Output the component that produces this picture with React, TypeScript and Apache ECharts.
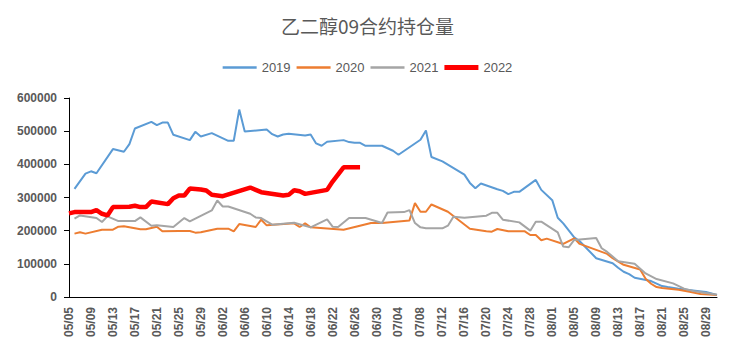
import React, { useEffect, useRef } from "react";
import * as echarts from "echarts";

const title = "乙二醇09合约持仓量";
const seriesNames = ["2019", "2020", "2021", "2022"];
const seriesColors = ["#5B9BD5", "#ED7D31", "#A5A5A5", "#FF0000"];

// daily categories 05/05 .. 08/31
const startMonth = 5;
const startDay = 5;
const endMonth = 8;
const endDay = 31;
const monthLengths = [31, 28, 31, 30, 31, 30, 31, 31, 30, 31, 30, 31];
const categories: string[] = [];
for (let m = startMonth; m <= endMonth; m++) {
  const d0 = m === startMonth ? startDay : 1;
  const d1 = m === endMonth ? endDay : monthLengths[m - 1];
  for (let d = d0; d <= d1; d++) {
    categories.push(String(m).padStart(2, "0") + "/" + String(d).padStart(2, "0"));
  }
}

const s2019: [string, number][] = [
  ["05/06", 326000], ["05/08", 372000], ["05/09", 379000], ["05/10", 373000],
  ["05/13", 446000], ["05/15", 438000], ["05/16", 461000], ["05/17", 508000],
  ["05/20", 528000], ["05/21", 518000], ["05/22", 526000], ["05/23", 526000],
  ["05/24", 489000], ["05/27", 473000], ["05/28", 498000], ["05/29", 484000],
  ["05/31", 494000], ["06/03", 471000], ["06/04", 471000], ["06/05", 565000],
  ["06/06", 499000], ["06/10", 505000], ["06/11", 491000], ["06/12", 484000],
  ["06/13", 490000], ["06/14", 492000], ["06/17", 487000], ["06/18", 490000],
  ["06/19", 463000], ["06/20", 456000], ["06/21", 468000], ["06/24", 473000],
  ["06/25", 467000], ["06/26", 465000], ["06/27", 465000], ["06/28", 456000],
  ["07/01", 456000], ["07/03", 441000], ["07/04", 429000], ["07/08", 474000],
  ["07/09", 502000], ["07/10", 422000], ["07/12", 409000], ["07/16", 369000],
  ["07/17", 344000], ["07/18", 328000], ["07/19", 342000], ["07/22", 325000],
  ["07/23", 320000], ["07/24", 310000], ["07/25", 317000], ["07/26", 317000],
  ["07/29", 353000], ["07/30", 323000], ["08/01", 292000], ["08/02", 239000],
  ["08/03", 222000], ["08/05", 180000], ["08/06", 168000], ["08/09", 117000],
  ["08/12", 102000], ["08/13", 88000], ["08/14", 76000], ["08/15", 69000],
  ["08/16", 58000], ["08/19", 48000], ["08/21", 33000], ["08/22", 30000],
  ["08/24", 25000], ["08/27", 19000], ["08/29", 15000], ["08/31", 6000],
];

const s2020: [string, number][] = [
  ["05/06", 191000], ["05/07", 195000], ["05/08", 191000], ["05/11", 203000],
  ["05/13", 203000], ["05/14", 212000], ["05/15", 213000], ["05/18", 204000],
  ["05/19", 204000], ["05/21", 212000], ["05/22", 198000], ["05/25", 199000],
  ["05/26", 199000], ["05/27", 199000], ["05/28", 194000], ["05/29", 195000],
  ["06/01", 206000], ["06/03", 206000], ["06/04", 198000], ["06/05", 220000],
  ["06/08", 211000], ["06/09", 233000], ["06/10", 216000], ["06/15", 222000],
  ["06/16", 211000], ["06/17", 222000], ["06/18", 210000], ["06/24", 203000],
  ["06/29", 223000], ["07/01", 223000], ["07/06", 231000], ["07/07", 283000],
  ["07/08", 257000], ["07/09", 257000], ["07/10", 279000], ["07/13", 257000],
  ["07/17", 206000], ["07/20", 198000], ["07/21", 197000], ["07/22", 205000],
  ["07/24", 198000], ["07/27", 198000], ["07/28", 187000], ["07/29", 187000],
  ["07/30", 171000], ["07/31", 176000], ["08/03", 160000], ["08/05", 177000],
  ["08/06", 160000], ["08/09", 142000], ["08/11", 130000], ["08/12", 117000],
  ["08/14", 97000], ["08/17", 83000], ["08/18", 55000], ["08/19", 40000],
  ["08/20", 30000], ["08/21", 27000], ["08/24", 22000], ["08/26", 16000],
  ["08/28", 9000], ["08/31", 6000],
];

const s2021: [string, number][] = [
  ["05/06", 236000], ["05/07", 246000], ["05/10", 238000], ["05/11", 226000],
  ["05/12", 243000], ["05/14", 229000], ["05/17", 229000], ["05/18", 240000],
  ["05/20", 215000], ["05/21", 216000], ["05/24", 211000], ["05/26", 238000],
  ["05/27", 228000], ["05/31", 261000], ["06/01", 291000], ["06/02", 273000],
  ["06/03", 273000], ["06/07", 251000], ["06/08", 240000], ["06/09", 238000],
  ["06/10", 228000], ["06/11", 218000], ["06/15", 224000], ["06/18", 210000],
  ["06/21", 234000], ["06/22", 212000], ["06/23", 211000], ["06/25", 238000],
  ["06/28", 238000], ["07/01", 223000], ["07/02", 255000], ["07/05", 256000],
  ["07/06", 262000], ["07/07", 223000], ["07/08", 210000], ["07/09", 207000],
  ["07/12", 207000], ["07/13", 215000], ["07/14", 242000], ["07/16", 239000],
  ["07/20", 245000], ["07/21", 254000], ["07/22", 254000], ["07/23", 233000],
  ["07/26", 225000], ["07/28", 200000], ["07/29", 227000], ["07/30", 227000],
  ["08/02", 195000], ["08/03", 152000], ["08/04", 150000], ["08/05", 172000],
  ["08/09", 178000], ["08/10", 147000], ["08/11", 136000], ["08/13", 108000],
  ["08/16", 100000], ["08/18", 71000], ["08/20", 54000], ["08/23", 41000],
  ["08/25", 25000], ["08/27", 17000], ["08/31", 7000],
];

const s2022: [string, number][] = [
  ["05/05", 252000], ["05/06", 256000], ["05/09", 256000], ["05/10", 262000],
  ["05/11", 251000], ["05/12", 246000], ["05/13", 271000], ["05/16", 272000],
  ["05/17", 275000], ["05/18", 271000], ["05/19", 271000], ["05/20", 288000],
  ["05/23", 280000], ["05/24", 298000], ["05/25", 306000], ["05/26", 306000],
  ["05/27", 327000], ["05/29", 324000], ["05/30", 321000], ["05/31", 308000],
  ["06/01", 306000], ["06/02", 304000], ["06/07", 330000], ["06/08", 323000],
  ["06/09", 316000], ["06/13", 306000], ["06/14", 308000], ["06/15", 322000],
  ["06/16", 319000], ["06/17", 311000], ["06/21", 323000], ["06/22", 348000],
  ["06/24", 391000], ["06/27", 391000],
];

const yTicks = { min: 0, max: 600000, interval: 100000 };

export default function App() {
  const ref = useRef<HTMLDivElement>(null);
  useEffect(() => {
    if (!ref.current) return;
    const chart = echarts.init(ref.current, null, { renderer: "svg" });
    const all = [s2019, s2020, s2021, s2022];
    chart.setOption({
      animation: false,
      backgroundColor: "#ffffff",
      title: {
        text: title,
        left: "center",
        top: 11,
        textStyle: {
          fontFamily: "Noto Sans CJK SC",
          fontSize: 19,
          fontWeight: "normal",
          color: "#595959",
        },
      },
      legend: {
        top: 56,
        left: "center",
        itemWidth: 34,
        itemHeight: 14,
        itemGap: 6,
        symbolKeepAspect: true,
        data: seriesNames.map((name, i) => ({
          name,
          icon: i === 3 ? "path://M0 0H34V5H0Z" : "path://M0 0H34V2.5H0Z",
          itemStyle: { color: seriesColors[i] },
        })),
        textStyle: {
          fontFamily: "Liberation Sans",
          fontSize: 13,
          color: "#595959",
        },
      },
      grid: { left: 69, right: 18, top: 98, bottom: 63, containLabel: false },
      xAxis: {
        type: "category",
        data: categories,
        boundaryGap: false,
        axisLine: { show: true, lineStyle: { color: "#000000", width: 1 } },
        axisTick: { show: false },
        axisLabel: {
          interval: 3,
          rotate: 90,
          margin: 10,
          fontFamily: "Liberation Sans",
          fontSize: 12,
          fontWeight: "bold",
          color: "#595959",
        },
        splitLine: { show: false },
      },
      yAxis: {
        type: "value",
        min: yTicks.min,
        max: yTicks.max,
        interval: yTicks.interval,
        axisLine: { show: true, lineStyle: { color: "#000000", width: 1 } },
        axisTick: { show: true, length: 5, lineStyle: { color: "#000000" } },
        axisLabel: {
          margin: 12,
          formatter: (v: number) => String(v),
          fontFamily: "Liberation Sans",
          fontSize: 12,
          fontWeight: "bold",
          color: "#595959",
        },
        splitLine: { show: false },
      },
      series: seriesNames.map((name, i) => ({
        name,
        type: "line",
        data: all[i],
        symbol: "none",
        showSymbol: false,
        smooth: false,
        connectNulls: true,
        z: i + 2,
        lineStyle: { color: seriesColors[i], width: i === 3 ? 4.5 : 2 },
        itemStyle: { color: seriesColors[i] },
      })),
    });
    return () => chart.dispose();
  }, []);
  return (
    <div
      ref={ref}
      style={{ position: "fixed", left: 0, top: 0, width: 735, height: 360, background: "#fff" }}
    />
  );
}
